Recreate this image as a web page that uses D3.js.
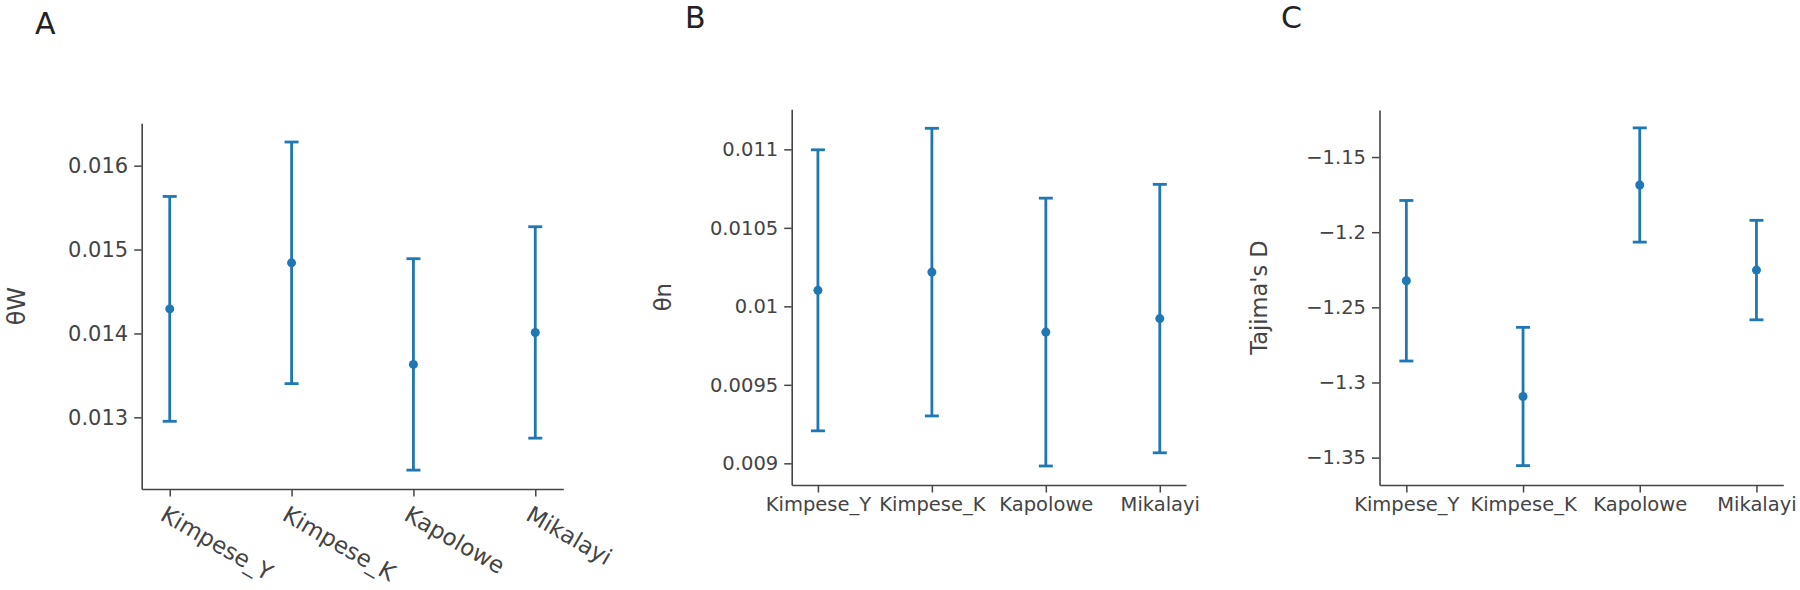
<!DOCTYPE html>
<html>
<head>
<meta charset="utf-8">
<script src="https://cdn.jsdelivr.net/npm/d3@7"></script>
<style>
  body { margin: 0; background: #fff; }
  svg { display: block; }
  text { font-family: "DejaVu Sans", Verdana, sans-serif; }
</style>
</head>
<body>
<div id="chart"></div>
<script>
// populations on the x axis of every panel
const populations = ["Kimpese_Y", "Kimpese_K", "Kapolowe", "Mikalayi"];

// A: Watterson's theta, mean and error
const thetaW = [0.014293, 0.014842, 0.013631, 0.014012];
const thetaWErr = [0.00134, 0.00144, 0.00126, 0.00126];

// B: nucleotide diversity, mean and error
const thetaN = [0.010102, 0.010218, 0.009836, 0.009922];
const thetaNErr = [0.000895, 0.000916, 0.000853, 0.000855];

// C: Tajima's D, mean and error
const tajimaD = [-1.2323, -1.3093, -1.1686, -1.2252];
const tajimaDErr = [0.0534, 0.046, 0.038, 0.0331];

// y tick labels and axis ranges
const ticksA = [0.013, 0.014, 0.015, 0.016];
const ticksB = [0.009, 0.0095, 0.01, 0.0105, 0.011];
const ticksC = [-1.35, -1.3, -1.25, -1.2, -1.15];
const rangeA = [0.012146, 0.016505];
const rangeB = [0.008862, 0.011255];
const rangeC = [-1.3682, -1.1187];

const width = 1800;
const height = 590;
const blue = "#1f77b4";
const ink = "#444";

const svg = d3.select("#chart")
  .append("svg")
  .attr("width", width)
  .attr("height", height);

const panels = [
  {
    letter: "A", letterX: 35, letterY: 34,
    x0: 141.7, x1: 563.3, y0: 123.3, y1: 489,
    means: thetaW, errs: thetaWErr, domain: rangeA, ticks: ticksA,
    fmt: d3.format(".3f"), title: "θW", titleX: 17,
    font: 21, titleFont: 24, tilt: true
  },
  {
    letter: "B", letterX: 685, letterY: 28,
    x0: 791.7, x1: 1186, y0: 109.3, y1: 485,
    means: thetaN, errs: thetaNErr, domain: rangeB, ticks: ticksB,
    fmt: d3.format(".4~f"), title: "θn", titleX: 663.3,
    font: 19.5, titleFont: 22.8, tilt: false
  },
  {
    letter: "C", letterX: 1281, letterY: 28,
    x0: 1379.5, x1: 1783.3, y0: 110, y1: 485,
    means: tajimaD, errs: tajimaDErr, domain: rangeC, ticks: ticksC,
    fmt: d3.format(".2~f"), title: "Tajima's D", titleX: 1259,
    font: 19.5, titleFont: 22.5, tilt: false
  }
];

panels.forEach(p => {
  const x = d3.scalePoint()
    .domain(populations)
    .range([p.x0, p.x1])
    .padding(0.23);

  const y = d3.scaleLinear()
    .domain(p.domain)
    .range([p.y1, p.y0]);

  const rows = populations.map((name, i) => ({ name, m: p.means[i], e: p.errs[i] }));

  // panel letter
  svg.append("text")
    .attr("x", p.letterX)
    .attr("y", p.letterY)
    .attr("fill", "#222")
    .style("font-size", "30px")
    .text(p.letter);

  // y axis
  const gy = svg.append("g")
    .attr("transform", `translate(${p.x0},0)`)
    .call(d3.axisLeft(y).tickValues(p.ticks).tickFormat(p.fmt)
      .tickSize(7.5).tickSizeOuter(0).tickPadding(6));

  // x axis
  const gx = svg.append("g")
    .attr("transform", `translate(0,${p.y1})`)
    .call(d3.axisBottom(x).tickSize(7.5).tickSizeOuter(0).tickPadding(5));

  [gx, gy].forEach(g => {
    g.select(".domain").attr("stroke", ink).attr("stroke-width", 1.6);
    g.selectAll(".tick line").attr("stroke", ink).attr("stroke-width", 1.5);
    g.selectAll(".tick text")
      .attr("fill", ink)
      .style("font-size", p.font + "px")
      .style("font-family", "\"DejaVu Sans\", Verdana, sans-serif");
  });

  if (p.tilt) {
    // tilted category labels, a little larger than the tick numbers
    gx.selectAll(".tick text")
      .attr("x", 0)
      .attr("y", 0)
      .attr("dy", "0.71em")
      .attr("text-anchor", "start")
      .style("font-size", "23px")
      .attr("transform", "translate(-3,16) rotate(30)");
  } else {
    gx.selectAll(".tick text").attr("y", 12.5);
  }

  // y axis title
  svg.append("text")
    .attr("transform", `translate(${p.titleX},${(p.y0 + p.y1) / 2}) rotate(-90)`)
    .attr("text-anchor", "middle")
    .attr("dy", "0.35em")
    .attr("fill", ink)
    .style("font-size", p.titleFont + "px")
    .text(p.title);

  // error bars
  const bars = svg.append("g")
    .selectAll("g")
    .data(rows)
    .enter()
    .append("g")
    .attr("stroke", blue)
    .attr("stroke-width", 2.8);

  bars.append("line")
    .attr("x1", d => x(d.name))
    .attr("x2", d => x(d.name))
    .attr("y1", d => y(d.m - d.e))
    .attr("y2", d => y(d.m + d.e));

  bars.append("line")
    .attr("x1", d => x(d.name) - 7)
    .attr("x2", d => x(d.name) + 7)
    .attr("y1", d => y(d.m + d.e))
    .attr("y2", d => y(d.m + d.e));

  bars.append("line")
    .attr("x1", d => x(d.name) - 7)
    .attr("x2", d => x(d.name) + 7)
    .attr("y1", d => y(d.m - d.e))
    .attr("y2", d => y(d.m - d.e));

  svg.append("g")
    .selectAll("circle")
    .data(rows)
    .enter()
    .append("circle")
    .attr("cx", d => x(d.name))
    .attr("cy", d => y(d.m))
    .attr("r", 4.5)
    .attr("fill", blue);
});
</script>
</body>
</html>
